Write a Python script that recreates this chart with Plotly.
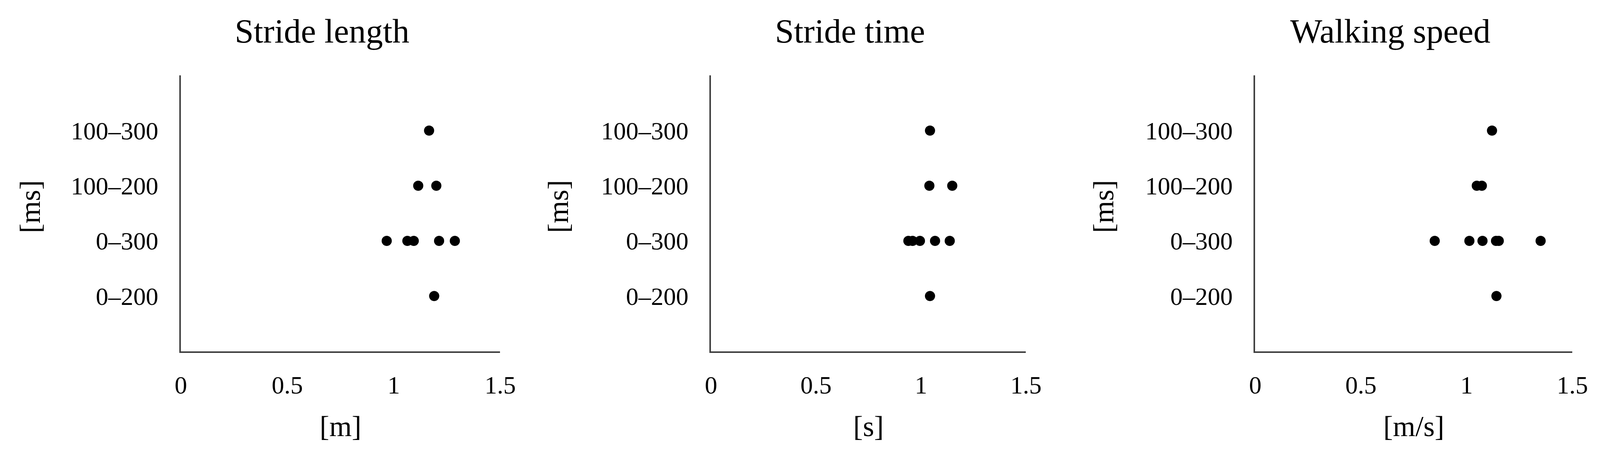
import plotly.graph_objects as go
from plotly.subplots import make_subplots

# delay windows, y position of each category
windows = ["0–200", "0–300", "100–200", "100–300"]
window_pos = [1, 2, 3, 4]

# stride length [m]
stride_len_x = [1.19, 0.967, 1.064, 1.094, 1.213, 1.287, 1.115, 1.20, 1.166]
stride_len_y = ["0–200", "0–300", "0–300", "0–300", "0–300", "0–300", "100–200", "100–200", "100–300"]

# stride time [s]
stride_time_x = [1.043, 0.94, 0.96, 0.995, 1.067, 1.137, 1.040, 1.149, 1.043]
stride_time_y = ["0–200", "0–300", "0–300", "0–300", "0–300", "0–300", "100–200", "100–200", "100–300"]

# walking speed [m/s]
speed_x = [1.141, 0.849, 1.013, 1.075, 1.139, 1.152, 1.350, 1.048, 1.072, 1.120]
speed_y = ["0–200", "0–300", "0–300", "0–300", "0–300", "0–300", "0–300", "100–200", "100–200", "100–300"]

titles = ["Stride length", "Stride time", "Walking speed"]
x_units = ["[m]", "[s]", "[m/s]"]
y_unit = "[ms]"
x_ticks = [0, 0.5, 1, 1.5]
x_tick_text = ["0", "0.5", "1", "1.5"]

panels = [(stride_len_x, stride_len_y), (stride_time_x, stride_time_y), (speed_x, speed_y)]
pos_of = dict(zip(windows, window_pos))

# the page renders a little zoomed and has a body margin,
# so picture pixels are converted to page pixels
R = 1.045
OFFX, OFFY = 18, 8
W, H = 4095, 1136
FONT = "Liberation Serif"


def cx(px):
    return (px / R - OFFX) / W


def cy(px):
    return 1 - (px / R - OFFY) / H


fig = make_subplots(rows=1, cols=3)

for i, (xs, ys) in enumerate(panels):
    fig.add_trace(go.Scatter(
        x=xs, y=[pos_of[w] for w in ys], mode="markers",
        marker=dict(color="black", size=26),
        showlegend=False), row=1, col=i + 1)

# plot areas and label spots measured in pixels from the picture
x_domains = [(484, 1350), (1922, 2776), (3398, 4258)]
y_top, y_bot = 202, 940
title_x = [867, 2299, 3764]
ytitle_x = [75, 1508, 2987]
ytitle_y = 553

for i in range(3):
    sfx = "" if i == 0 else str(i + 1)
    fig.layout["xaxis" + sfx].update(
        domain=[cx(x_domains[i][0]), cx(x_domains[i][1])],
        range=[0, 1.5], tickvals=x_ticks, ticktext=x_tick_text,
        showgrid=False, zeroline=False, showline=True,
        linecolor="#404040", linewidth=4, ticks="",
        ticklabelstandoff=28,
        tickfont=dict(family=FONT, size=64, color="black"),
        title=dict(text=x_units[i], standoff=45,
                   font=dict(family=FONT, size=74, color="black")))
    fig.layout["yaxis" + sfx].update(
        domain=[cy(y_bot), cy(y_top)], range=[0, 5],
        tickvals=window_pos, ticktext=windows,
        showgrid=False, zeroline=False, showline=True,
        linecolor="#404040", linewidth=4, ticks="",
        ticklabelstandoff=41,
        tickfont=dict(family=FONT, size=64, color="black"))
    fig.add_annotation(text=y_unit, x=cx(ytitle_x[i]), y=cy(ytitle_y),
                       xref="paper", yref="paper", showarrow=False,
                       textangle=-90, xanchor="center", yanchor="middle",
                       font=dict(family=FONT, size=74, color="black"))
    fig.add_annotation(text=titles[i], x=cx(title_x[i]), y=1 - 71 / H,
                       xref="paper", yref="paper", showarrow=False,
                       xanchor="center", yanchor="middle",
                       font=dict(family=FONT, size=87, color="black"))

fig.update_layout(width=W, height=H, plot_bgcolor="white", paper_bgcolor="white",
                  margin=dict(l=0, r=0, t=0, b=0))

fig.write_html("out.html")
